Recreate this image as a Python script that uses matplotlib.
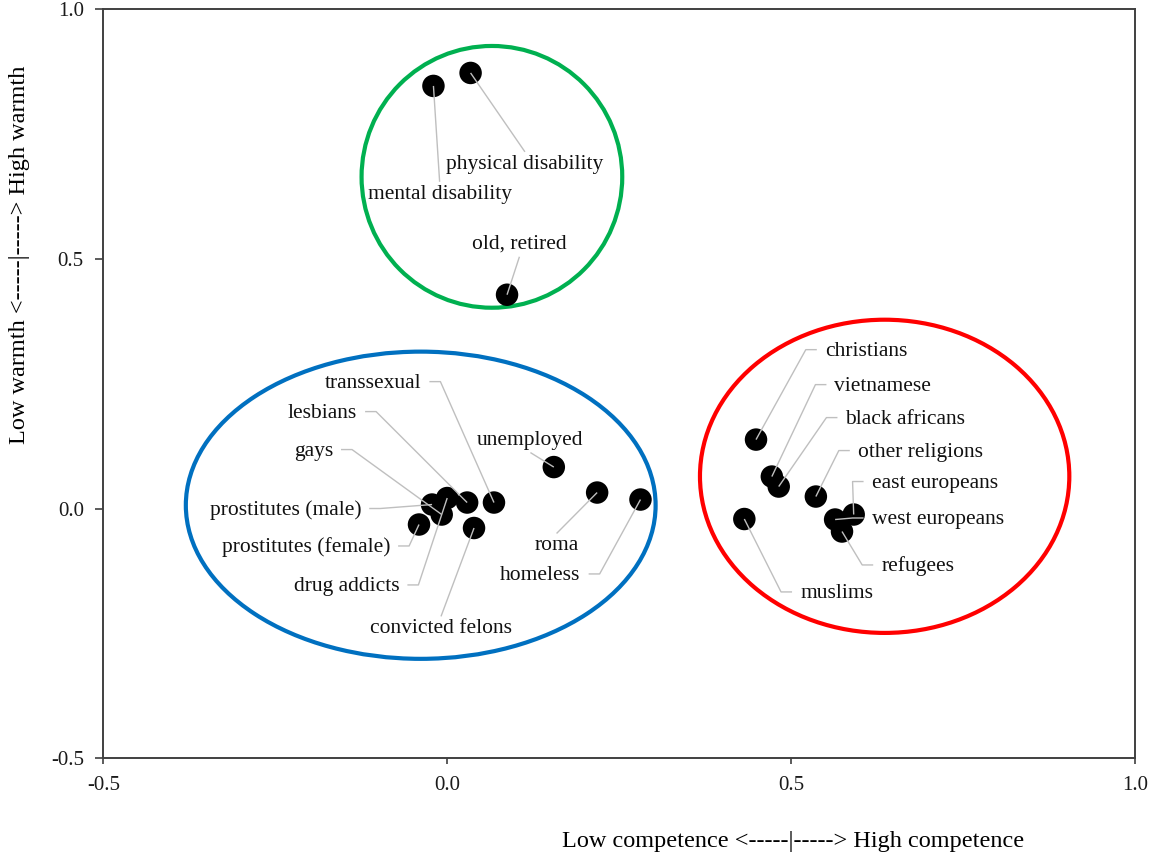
import matplotlib
matplotlib.use("Agg")
import matplotlib.pyplot as plt
import matplotlib.transforms as mtransforms
from matplotlib.patches import Ellipse

plt.rcParams["font.family"] = ["Liberation Serif", "DejaVu Serif"]

# Stereotype content map: competence (x) vs warmth (y)
groups = [
    "mental disability", "physical disability", "old, retired",
    "unemployed", "roma", "homeless", "transsexual", "lesbians",
    "drug addicts", "gays", "prostitutes (male)", "prostitutes (female)",
    "convicted felons",
    "christians", "vietnamese", "black africans", "other religions",
    "muslims", "east europeans", "west europeans", "refugees",
]
competence = [
    -0.020, 0.034, 0.087,
    0.155, 0.218, 0.281, 0.068, 0.029,
    0.000, -0.008, -0.022, -0.041,
    0.039,
    0.449, 0.472, 0.482, 0.536,
    0.432, 0.591, 0.564, 0.574,
]
warmth = [
    0.846, 0.872, 0.428,
    0.083, 0.032, 0.018, 0.012, 0.012,
    0.021, -0.012, 0.008, -0.032,
    -0.039,
    0.138, 0.064, 0.044, 0.024,
    -0.021, -0.012, -0.022, -0.046,
]

x_ticks = [-0.5, 0.0, 0.5, 1.0]
y_ticks = [-0.5, 0.0, 0.5, 1.0]

# Cluster outlines: (center x, center y, width, height, colour)
clusters = [
    (0.065, 0.664, 0.379, 0.524, "#00B050"),
    (-0.0385, 0.0066, 0.683, 0.615, "#0070C0"),
    (0.636, 0.0645, 0.537, 0.627, "#FF0000"),
]

# Label placement: text anchor (data coords), horizontal alignment, leader style
label_layout = {
    "mental disability": (-0.011, 0.636, "center", "top"),
    "physical disability": (0.113, 0.696, "center", "top"),
    "old, retired": (0.105, 0.536, "center", "bottom"),
    "unemployed": (0.121, 0.144, "center", "bottom"),
    "roma": (0.159, -0.068, "center", "top"),
    "homeless": (0.194, -0.127, "right", "side"),
    "transsexual": (-0.0375, 0.258, "right", "side"),
    "lesbians": (-0.131, 0.198, "right", "side"),
    "drug addicts": (-0.0695, -0.149, "right", "side"),
    "gays": (-0.166, 0.122, "right", "side"),
    "prostitutes (male)": (-0.125, 0.004, "right", "side"),
    "prostitutes (female)": (-0.083, -0.071, "right", "side"),
    "convicted felons": (-0.009, -0.234, "center", "top"),
    "christians": (0.549, 0.322, "left", "side"),
    "vietnamese": (0.563, 0.252, "left", "side"),
    "black africans": (0.579, 0.186, "left", "side"),
    "other religions": (0.597, 0.120, "left", "side"),
    "muslims": (0.513, -0.163, "left", "side"),
    "east europeans": (0.617, 0.058, "left", "side"),
    "west europeans": (0.617, -0.015, "left", "side"),
    "refugees": (0.631, -0.109, "left", "side"),
}

W, H, DPI = 1160, 858, 100
fig = plt.figure(figsize=(W / DPI, H / DPI), dpi=DPI)
ax = fig.add_axes([103.3 / W, 1 - 758.3 / H, (1135 - 103.3) / W, (758.3 - 9) / H])

ax.set_xlim(-0.5, 1.0)
ax.set_ylim(-0.5, 1.0)
ax.set_xticks(x_ticks)
ax.set_yticks(y_ticks)
ax.set_xticklabels([f"{v:.1f}" for v in x_ticks])
ax.set_yticklabels([f"{v:.1f}" for v in y_ticks])

spine_col = "#404040"
for sp in ax.spines.values():
    sp.set_color(spine_col)
    sp.set_linewidth(1.4)
ax.tick_params(axis="both", direction="out", colors=spine_col, labelcolor="#1a1a1a",
               labelsize=15, width=1.2)
ax.tick_params(axis="x", length=4, pad=9)
ax.tick_params(axis="y", length=6, pad=8)

for cx, cy, w, h, col in clusters:
    ax.add_patch(Ellipse((cx, cy), w, h, fill=False, edgecolor=col, linewidth=3.0, zorder=2))

ax.scatter(competence, warmth, s=262, color="black", edgecolors="none", zorder=3)

# nudge label text slightly down so the glyph body sits on the anchor line
text_shift = mtransforms.ScaledTranslation(0, -2.5 / 72, fig.dpi_scale_trans)
texts = {}
for name in groups:
    tx, ty, ha, style = label_layout[name]
    texts[name] = ax.text(tx, ty, name, ha=ha, va="center", fontsize=15.5,
                          color="#111111", zorder=5,
                          transform=ax.transData + text_shift)

fig.canvas.draw()
renderer = fig.canvas.get_renderer()
inv = ax.transData.inverted()
gap, seg = 8.0, 11.0
for name, px, py in zip(groups, competence, warmth):
    tx, ty, ha, style = label_layout[name]
    bb = texts[name].get_window_extent(renderer)
    cy = (bb.y0 + bb.y1) / 2 + 1.5
    cx = (bb.x0 + bb.x1) / 2
    if style == "side":
        if ha == "right":
            near, far = bb.x1 + gap, bb.x1 + gap + seg
        else:
            near, far = bb.x0 - gap, bb.x0 - gap - seg
        pts = [(near, cy), (far, cy)]
    elif style == "top":
        pts = [(cx, bb.y1 + 3)]
    else:
        pts = [(cx, bb.y0 - 3)]
    data_pts = [tuple(inv.transform(p)) for p in pts] + [(px, py)]
    xs, ys = zip(*data_pts)
    ax.plot(xs, ys, color="#BFBFBF", linewidth=1.0, zorder=4, solid_capstyle="butt")

ax.set_xlabel("Low competence <-----|-----> High competence", fontsize=17.5)
ax.xaxis.set_label_coords((793 - 103.3) / (1135 - 103.3), (758.3 - 842) / (758.3 - 9))
ax.xaxis.label.set_va("center")
ax.set_ylabel("Low warmth <-----|-----> High warmth", fontsize=17.5)
ax.yaxis.set_label_coords((20 - 103.3) / (1135 - 103.3), (758.3 - 255) / (758.3 - 9))
ax.yaxis.label.set_va("center")

fig.savefig("out.png", dpi=DPI)
